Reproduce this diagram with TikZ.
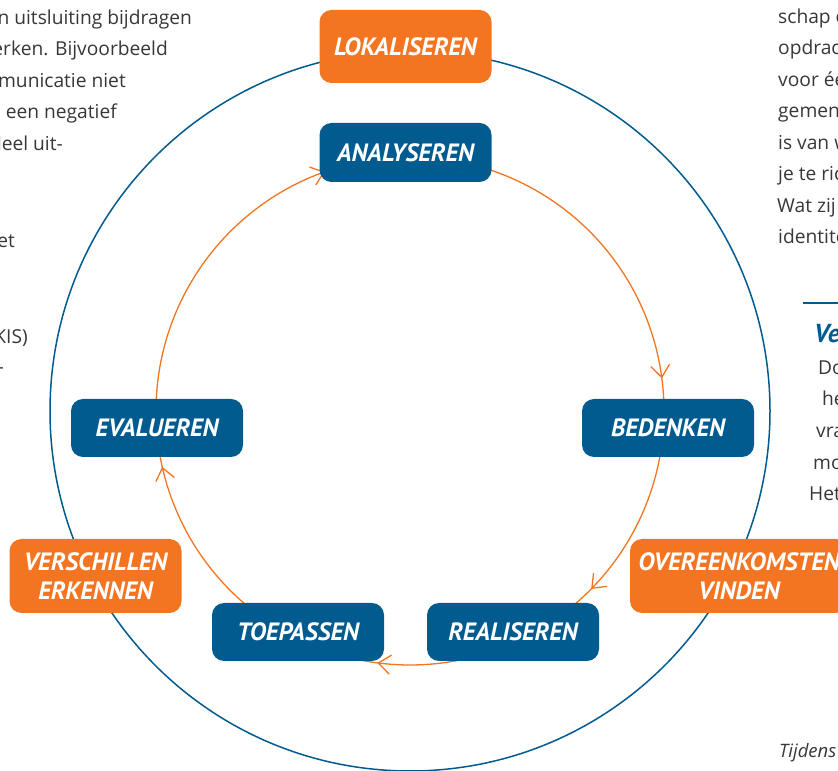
\documentclass[tikz,border=0pt]{standalone}
\usepackage{fontspec}
\setmainfont{Open Sans}
\newfontfamily\labelfont{PT Sans}
\usetikzlibrary{arrows.meta,decorations.markings}
\definecolor{roOrange}{RGB}{243,117,33}
\definecolor{roBlue}{RGB}{1,91,143}
\definecolor{bodyGray}{RGB}{55,55,55}
\begin{document}
\begin{tikzpicture}[x=1pt,y=1pt,
  box/.style={rounded corners=12pt, minimum height=58pt, minimum width=172pt, inner sep=0pt,
    text=white, align=center, font=\labelfont\bfseries\itshape\fontsize{25}{29}\selectfont},
  stepblue/.style={box, fill=roBlue},
  steporange/.style={box, fill=roOrange, minimum height=74pt},
  body/.style={font=\fontsize{19.2}{23}\selectfont, text=bodyGray, inner sep=0pt},
  ring/.style={draw=roBlue, line width=1.5pt},
  cyc/.style={draw=roOrange, line width=1.3pt},
  tipat/.style={postaction={decorate}, decoration={markings, mark=at position #1 with
    {\arrow[roOrange, line width=1.3pt]{Straight Barb[length=12pt,width=19pt]}}}}]
\useasboundingbox (0,0) rectangle (838,771);
\clip (0,0) rectangle (838,771);
\coordinate (C) at (410,360);
% outer ring
\draw[ring] (C) circle[radius=360];
% cycle arcs
\draw[cyc, tipat=0.882] (C) ++(91:254) arc[start angle=91, end angle=-3.8, radius=254];
\draw[cyc, tipat=0.665] (C) ++(-3.8:254) arc[start angle=-3.8, end angle=-65, radius=254];
\draw[cyc, tipat=0.624] (C) ++(-65:254) arc[start angle=-65, end angle=-116.9, radius=254];
\draw[cyc, tipat=0.850] (C) ++(-116.9:254) arc[start angle=-116.9, end angle=-176.2, radius=254];
\draw[cyc, tipat=0.80] (C) ++(183.8:254) arc[start angle=183.8, end angle=91, radius=254];
% boxes
\node[steporange, minimum height=73pt] (lok) at (405.5,724.5) {LOKALISEREN};
\node[stepblue, minimum height=59pt] (ana) at (405.5,618.5) {ANALYSEREN};
\node[stepblue] (bed) at (668,343) {BEDENKEN};
\node[stepblue] (eva) at (157,343) {EVALUEREN};
\node[stepblue] (toe) at (298,139) {TOEPASSEN};
\node[stepblue] (rea) at (513,139) {REALISEREN};
\node[steporange] (ver) at (95.5,195) {VERSCHILLEN\\ERKENNEN};
\node[steporange, minimum width=218pt] (ove) at (739,195) {OVEREENKOMSTEN\\VINDEN};
% left column fragments
\node[body, anchor=base east] (l1) at (192,746) {van uitsluiting bijdragen};
\node[body, anchor=base east] (l2) at (168,715) {werken. Bijvoorbeeld};
\node[body, anchor=base east] (l3) at (126,683) {municatie niet};
\node[body, anchor=base east] (l4) at (117,652) {en een negatief};
\node[body, anchor=base east] (l5) at (63,620) {oordeel uit-};
\node[body, anchor=base east] (l6) at (15,523) {het};
\node[body, anchor=base east] (l7) at (28,427) {(AKIS)};
\node[body, anchor=base east] (l8) at (4,397) {-};
% right column fragments
\node[body, anchor=base west] (r1) at (778,747) {schap of};
\node[body, anchor=base west] (r2) at (778,716) {opdracht};
\node[body, anchor=base west] (r3) at (778,684) {voor één};
\node[body, anchor=base west] (r4) at (778,653) {gemene};
\node[body, anchor=base west] (r5) at (778,621) {is van waarde};
\node[body, anchor=base west] (r6) at (778,590) {je te richten};
\node[body, anchor=base west] (r7) at (777,558) {Wat zij};
\node[body, anchor=base west] (r8) at (778,527) {identiteit};
\draw[roBlue, line width=2pt] (803,468) coordinate (rl) -- (838,468) coordinate (rr);
\node[anchor=base west, inner sep=0pt, text=roBlue, font=\labelfont\bfseries\itshape\fontsize{26}{30}\selectfont] (ve) at (814,428) {Ve};
\node[body, anchor=base west] (s1) at (818,396) {Door};
\node[body, anchor=base west] (s2) at (822,365) {het};
\node[body, anchor=base west] (s3) at (816,333) {vragen};
\node[body, anchor=base west] (s4) at (813,301) {mogen};
\node[body, anchor=base west] (s5) at (809,270) {Het};
\node[body, anchor=base west, font=\itshape\fontsize{18.5}{22}\selectfont] (tij) at (779,13) {Tijdens de};
\end{tikzpicture}
\end{document}
